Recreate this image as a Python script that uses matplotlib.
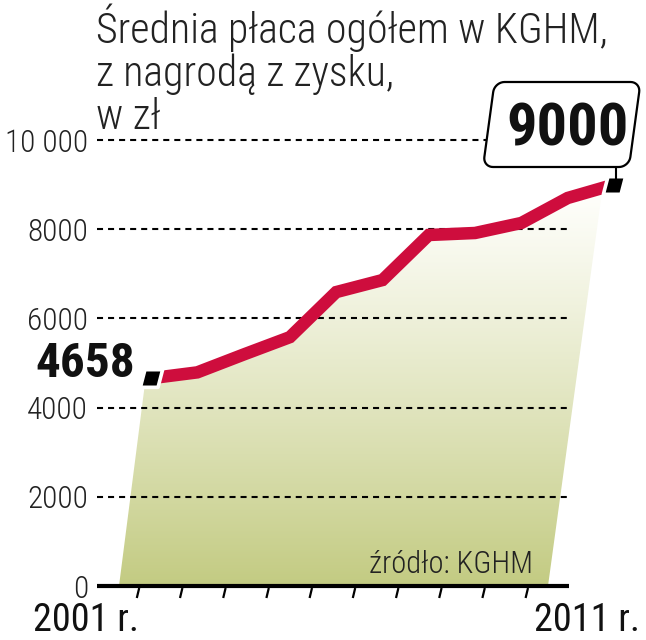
import logging
logging.getLogger("matplotlib.font_manager").setLevel(logging.ERROR)
import numpy as np
import matplotlib
matplotlib.use("Agg")
import matplotlib.pyplot as plt
from matplotlib.patches import Polygon
from matplotlib.path import Path

# ---------------- data ----------------
years = [2001, 2002, 2003, 2004, 2005, 2006, 2007, 2008, 2009, 2010, 2011]
wages = [4658, 4790, 5190, 5580, 6590, 6860, 7870, 7915, 8140, 8700, 9000]
y_ticks = [0, 2000, 4000, 6000, 8000, 10000]
y_tick_labels = ["0", "2000", "4000", "6000", "8000", "10 000"]
title_lines = ["Średnia płaca ogółem w KGHM,", "z nagrodą z zysku,", "w zł"]
start_label = "4658"
end_label = "9000"
x_first_label = "2001 r."
x_last_label = "2011 r."
source = "źródło: KGHM"

# ---------------- layout ----------------
W, H = 646, 640
X0, DX = 151.0, 46.3      # pixel of first year, pixels per year
Y0, DY = 586.0, 0.0446    # pixel of value 0, pixels per unit

def P(x, y):
    """pixel (from top-left) -> data coords"""
    return 2001 + (x - X0) / DX, (Y0 - y) / DY

FONT = ["Roboto Condensed", "DejaVu Sans"]
RED = "#CE0D3D"

fig = plt.figure(figsize=(W / 100, H / 100), dpi=100)
ax = fig.add_axes([0, 0, 1, 1])
xl = (P(0, 0)[0], P(W, 0)[0])
yl = (P(0, H)[1], P(0, 0)[1])

# ---- gradient fill (skewed band under the line) ----
skew = 0.136
yb = Y0
left_bottom = 119.0
right_bottom = 548.0
x_px = [X0 + (yr - 2001) * DX for yr in years]
y_px = [Y0 - v * DY for v in wages]
poly_px = [(left_bottom, yb), (left_bottom + skew * (yb - y_px[0]) - 2, y_px[0] + 3)]
for xp, yp in zip(x_px[:-1], y_px[:-1]):
    poly_px.append((xp + 4, yp + 3))
poly_px.append((right_bottom + skew * (yb - y_px[-1]), y_px[-1] + 3))
poly_px.append((right_bottom, yb))
poly_data = [P(a, b) for a, b in poly_px]
clip = Polygon(poly_data, closed=True, facecolor="none", edgecolor="none")
ax.add_patch(clip)

top_v = wages[-1]
n = 256
t = np.linspace(0, 1, n)[:, None]  # 0 top -> 1 bottom
g = t ** 1.15
base = np.array([0xC3, 0xCB, 0x82]) / 255.0
white = np.array([1.0, 1.0, 0.99])
img = (white[None, None, :] * (1 - g[..., None]) + base[None, None, :] * g[..., None])
img = np.repeat(img, 2, axis=1)
im = ax.imshow(img, extent=(xl[0], xl[1], 0, top_v), origin="upper",
               aspect="auto", interpolation="bilinear", zorder=1)
im.set_clip_path(clip)

# ---- gridlines ----
gx0 = P(97, 0)[0]
gx1 = P(567, 0)[0]
gx_top = P(486, 0)[0]
for v in y_ticks[1:]:
    x_end = gx_top if v == 10000 else gx1
    ax.plot([gx0, x_end], [v, v], color="black", lw=1.5,
            linestyle=(0, (2.9, 2.4)), zorder=2, dash_capstyle="butt")

# ---- axis line ----
ax.plot([gx0, P(569, 0)[0]], [0, 0], color="black", lw=3.0,
        solid_capstyle="butt", zorder=4)

# ---- decorative slanted ticks ----
for i in range(10):
    xp = 138 + 43.2 * i
    a = P(xp - 1.2, 598)
    b = P(xp + 1.2, 588)
    ax.plot([a[0], b[0]], [a[1], b[1]], color="black", lw=1.6,
            solid_capstyle="butt", zorder=4)

# ---- the line ----
ax.plot(years, wages, color=RED, lw=9.0, solid_joinstyle="miter",
        solid_capstyle="butt", zorder=5)

# ---- end markers (skewed squares with white halo) ----
s = 0.13
mk = Path([(-0.5 + s, 0.5), (0.5 + s, 0.5), (0.5 - s, -0.5), (-0.5 - s, -0.5), (-0.5 + s, 0.5)],
          [Path.MOVETO, Path.LINETO, Path.LINETO, Path.LINETO, Path.CLOSEPOLY])
ax.plot([years[0], years[-1]], [wages[0], wages[-1]], linestyle="none",
        marker=mk, markersize=16.0, markerfacecolor="black",
        markeredgecolor="white", markeredgewidth=2.6, zorder=6)

# ---- value box for last point ----
bx, by, bw, bh, r = 483.0, 167.0, 146.0, 85.0, 10.0
pts = []
def arc(cu, cv, a0, a1):
    for a in np.linspace(a0, a1, 10):
        pts.append((cu + r * np.cos(a), cv + r * np.sin(a)))
arc(r, r, np.pi, 1.5 * np.pi)
arc(bw - r, r, 1.5 * np.pi, 2 * np.pi)
arc(bw - r, bh - r, 0, 0.5 * np.pi)
arc(r, bh - r, 0.5 * np.pi, np.pi)
box_px = [(bx + u + skew * v, by - v) for u, v in pts]
box = Polygon([P(a, b) for a, b in box_px], closed=True, facecolor="white",
              edgecolor="black", lw=1.6, zorder=7)
ax.add_patch(box)
c0 = P(616, 167)
c1 = P(616, 178)
ax.plot([c0[0], c1[0]], [c0[1], c1[1]], color="black", lw=1.5, zorder=6)

ax.text(*P(568, 145), end_label, ha="center", va="baseline",
        fontsize=43.5, fontweight="bold", family=FONT, color="#111111", zorder=8)
ax.text(*P(135, 377), start_label, ha="right", va="baseline",
        fontsize=35.5, fontweight="bold", family=FONT, color="#111111", zorder=8)

# ---- tick labels ----
for v, lab in zip(y_ticks, y_tick_labels):
    ax.text(P(88, 0)[0], v, lab, ha="right", va="center_baseline",
            fontsize=22.5, fontweight=300, family=FONT, color="#222222", zorder=8)

# ---- x labels ----
ax.text(*P(33, 631), x_first_label, ha="left", va="baseline",
        fontsize=27.5, family=FONT, color="#111111")
ax.text(*P(640, 631), x_last_label, ha="right", va="baseline",
        fontsize=27.5, family=FONT, color="#111111")

# ---- source ----
ax.text(*P(533, 573), source, ha="right", va="baseline",
        fontsize=22, fontweight=300, family=FONT, color="#222222", zorder=8)

# ---- title ----
for line, yb_ in zip(title_lines, [43, 86, 129]):
    ax.text(*P(96, yb_), line, ha="left", va="baseline",
            fontsize=30.2, fontweight=300, family=FONT, color="#222222")

ax.set_xlim(*xl)
ax.set_ylim(*yl)
ax.axis("off")
fig.savefig("out.png", dpi=100)
